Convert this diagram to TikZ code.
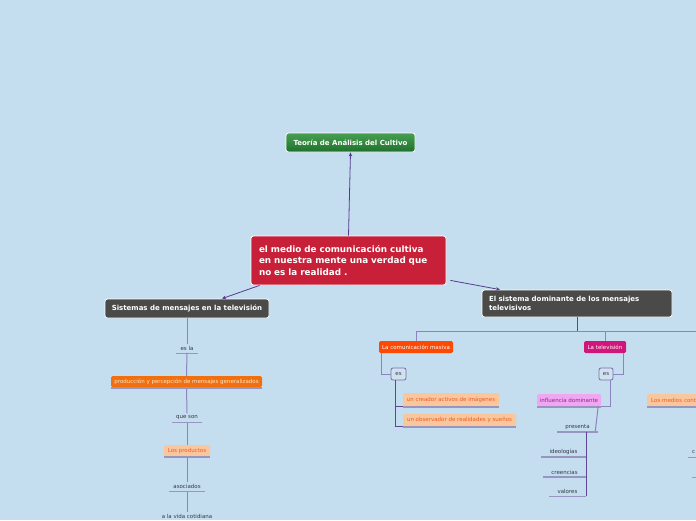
\documentclass[tikz,border=0pt]{standalone}
\usepackage{fontspec}
\setmainfont{DejaVu Sans}
\usetikzlibrary{arrows.meta}
\definecolor{bg}{RGB}{196,222,240}
\definecolor{arrowc}{RGB}{85,60,140}
\definecolor{treec}{RGB}{140,132,188}
\definecolor{ulc}{RGB}{150,150,192}
\definecolor{redc}{RGB}{200,32,56}
\definecolor{grayc}{RGB}{74,74,72}
\definecolor{greent}{RGB}{72,160,82}
\definecolor{greenb}{RGB}{30,112,44}
\definecolor{orangec}{RGB}{240,112,16}
\definecolor{orangetxt}{RGB}{255,228,196}
\definecolor{commc}{RGB}{252,74,6}
\definecolor{tvc}{RGB}{208,22,122}
\definecolor{peachc}{RGB}{250,198,156}
\definecolor{peachtxt}{RGB}{236,92,42}
\definecolor{inflc}{RGB}{240,166,240}
\definecolor{infltxt}{RGB}{140,40,140}
\definecolor{esfill}{RGB}{208,226,242}
\definecolor{esborder}{RGB}{120,112,160}
\definecolor{smalltxt}{RGB}{55,55,65}
\tikzset{
  mainbox/.style={draw=white, line width=0.8pt, rounded corners=2.5pt, text=white,
    font=\fontsize{7}{8}\selectfont\bfseries, inner sep=0pt},
  greenbox/.style={mainbox, top color=greent, bottom color=greenb},
  redbox/.style={mainbox, fill=redc, font=\fontsize{8.8}{11.5}\selectfont\bfseries},
  graybox/.style={mainbox, fill=grayc},
  colbox/.style={rounded corners=1.5pt, inner sep=0pt, font=\fontsize{5.5}{6.5}\selectfont},
  leaftxt/.style={inner sep=0pt, text=smalltxt, font=\fontsize{5.5}{6.5}\selectfont, minimum height=8},
  esbox/.style={draw=esborder, fill=esfill, line width=0.8pt, rounded corners=2pt, inner sep=0pt,
    text=smalltxt, font=\fontsize{5.5}{6.5}\selectfont, minimum width=14, minimum height=12},
  arrowline/.style={draw=arrowc, line width=0.8pt, -{Stealth[length=4pt,width=3.5pt]}},
  treeline/.style={draw=treec, line width=1pt},
  darkline/.style={draw=arrowc!85!treec, line width=1pt},
  uline/.style={draw=ulc, line width=1.3pt},
}
\begin{document}
\begin{tikzpicture}[x=1pt,y=-1pt]
\clip (0,0) rectangle (696,520);
\fill[bg] (0,0) rectangle (696,520);

% main nodes
\node[greenbox, minimum width=129, minimum height=19] (teoria) at (350.5,142.5) {Teoría de Análisis del Cultivo};
\node[redbox, minimum width=195, minimum height=49, text width=179, align=left] (central) at (348.5,260.5)
  {el medio de comunicación cultiva\\en nuestra mente una verdad que\\no es la realidad .};
\node[graybox, minimum width=164, minimum height=19] (sist) at (187,308.5) {Sistemas de mensajes en la televisión};
\node[graybox, minimum width=190, minimum height=27, text width=176, align=left, font=\fontsize{7}{9.2}\selectfont\bfseries] (dom) at (577,303.5)
  {El sistema dominante de los mensajes\\televisivos};

% arrows from central
\draw[arrowline] (central.north) -- (teoria.south);
\draw[arrowline] ([xshift=9pt]central.south west) -- ([xshift=35pt]sist.north);
\draw[arrowline] ([shift={(4,-5)}]central.south east) -- ([xshift=-77pt]dom.north);

% left column
\node[leaftxt, minimum width=22] (esla) at (187,348.5) {es la};
\node[colbox, fill=orangec, text=orangetxt, minimum width=151, minimum height=11] (prod) at (186.5,381.5) {producción y percepción de mensajes generalizados};
\node[leaftxt, minimum width=30] (queson) at (187,417.5) {que son};
\node[colbox, fill=peachc, text=peachtxt, minimum width=46, minimum height=11] (prods) at (187,450.5) {Los productos};
\node[leaftxt, minimum width=36] (asoc) at (187,486.5) {asociados};
\node[leaftxt, minimum width=50] (vida) at (187,516.5) {a la vida cotidiana};

\draw[treeline] (sist.south) -- (esla.north);
\draw[treeline] (esla.south) -- (prod.north);
\draw[treeline] (prod.south) -- (queson.north);
\draw[treeline] (queson.south) -- (prods.north);
\draw[treeline] (prods.south) -- (asoc.north);
\draw[treeline] (asoc.south) -- (vida.north);
\foreach \n in {esla,prod,queson,prods,asoc}
  \draw[uline] ([yshift=-0.7pt]\n.south west) -- ([yshift=-0.7pt]\n.south east);

% right part
\node[colbox, fill=commc, text=white, minimum width=74, minimum height=12] (comm) at (416,347) {La comunicación masiva};
\node[colbox, fill=tvc, text=white, minimum width=42, minimum height=12] (tv) at (605,347) {La televisión};
\coordinate (hub) at (577,331);
\coordinate (hubR) at (700,331);
\draw[darkline] (dom.south) -- (hub);
\draw[treeline] (comm.north) |- (hubR);
\draw[treeline] (tv.north) -- (tv.north |- hub);

\node[esbox, minimum width=15] (es1) at (398.5,374) {es};
\node[esbox] (es2) at (606,374) {es};
\draw[treeline] ([xshift=3pt]comm.south west) |- (es1.west);
\draw[treeline] ([xshift=-3pt]tv.south east) |- (es2.east);

\node[colbox, fill=peachc, text=peachtxt, minimum width=96, minimum height=13] (crea) at (451,399.5) {un creador activos de imágenes};
\node[colbox, fill=peachc, text=peachtxt, minimum width=113, minimum height=12] (obs) at (459.5,420) {un observador de realidades y sueños};
\draw[darkline] ([xshift=-3.5pt]es1.south) |- ([yshift=-0.7pt]crea.south west);
\draw[darkline] ([xshift=-3.5pt]es1.south) |- ([yshift=-0.7pt]obs.south west);
\foreach \n in {crea,obs}
  \draw[uline] ([yshift=-0.7pt]\n.south west) -- ([yshift=-0.7pt]\n.south east);

\node[colbox, fill=inflc, text=infltxt, minimum width=64, minimum height=12] (infl) at (569,400) {influencia dominante};
\draw[treeline] ([xshift=4pt]es2.south) |- ([yshift=-0.7pt]infl.south east);
\draw[uline] ([yshift=-0.7pt]infl.south west) -- ([yshift=-0.7pt]infl.south east);

\node[leaftxt, minimum width=41] (pres) at (577.5,427) {presenta};
\draw[treeline] ([xshift=-3pt]infl.south east) -- ([xshift=-3pt,yshift=-0.7pt]pres.south east);
\draw[uline] ([yshift=-0.7pt]pres.south west) -- ([yshift=-0.7pt]pres.south east);

\node[leaftxt, minimum width=45] (ideo) at (563.5,452) {ideologías};
\node[leaftxt, minimum width=43] (cree) at (564.5,472) {creencias};
\node[leaftxt, minimum width=37] (valo) at (567.5,491.5) {valores};
\foreach \n in {ideo,cree,valo}{
  \draw[darkline] ([xshift=-12pt,yshift=-0.7pt]pres.south east) |- ([yshift=-0.7pt]\n.south east);
  \draw[uline] ([yshift=-0.7pt]\n.south west) -- ([yshift=-0.7pt]\n.south east);
}

% partially visible branch at the right edge
\node[colbox, fill=peachc, text=peachtxt, minimum width=60, minimum height=12, anchor=west, text width=56, align=left] (medios) at (647,400) {\hspace*{2pt}Los medios cont};
\draw[uline] ([yshift=-0.7pt]medios.south west) -- ([yshift=-0.7pt]medios.south east);
\node[leaftxt, anchor=south west] (rc1) at (692,456.5) {c};
\draw[uline] ([xshift=-4pt,yshift=-0.7pt]rc1.south west) -- (700,457.2);
\coordinate (rc2) at (692,477.2);
\draw[uline] (rc2) -- (700,477.2);
\end{tikzpicture}
\end{document}
